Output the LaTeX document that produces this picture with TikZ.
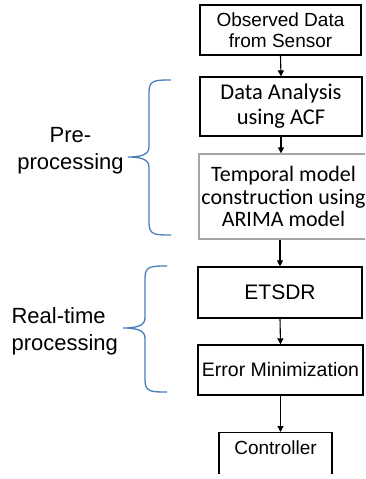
\documentclass[tikz,border=0pt]{standalone}
\usepackage{fontspec}
\setmainfont{Liberation Sans}
\newfontfamily\calibrifont{Carlito}
\usetikzlibrary{arrows.meta}
\definecolor{braceblue}{RGB}{74,126,187}

\begin{document}
\begin{tikzpicture}[x=1pt, y=-1pt,
    box/.style={draw, line width=1.2pt, inner sep=0pt, align=center},
    arr/.style={line width=1.1pt, -{Triangle[length=6pt, width=6pt]}},
    brace/.style={braceblue, line width=1.3pt},
    side/.style={font=\fontsize{22}{27}\selectfont}]
    \useasboundingbox (0, 0) rectangle (365, 479);
    \clip (0, 0) rectangle (365, 473);

    \node[box, minimum width=161, minimum height=50, font=\fontsize{19}{21}\selectfont] (obs) at (280.5, 30) {Observed Data\\from Sensor};
    \node[box, minimum width=162, minimum height=59, font=\calibrifont\fontsize{22.5}{25}\selectfont] (ana) at (281, 106.5) {Data Analysis\\using ACF};
    \node[box, draw=black!35, minimum width=169, minimum height=85, font=\calibrifont\fontsize{22}{22.5}\selectfont] (tmp) at (283.5, 196.5) {Temporal model\\construction using\\ARIMA model};
    \node[box, minimum width=164, minimum height=51, font=\fontsize{21}{24}\selectfont] (etsdr) at (280, 292.5) {ETSDR};
    \node[box, minimum width=165, minimum height=50, font=\fontsize{19.5}{23}\selectfont] (err) at (280.5, 370) {Error Minimization};
    \node[box, minimum width=113, text height=22, text depth=60, anchor=north, font=\fontsize{19}{22}\selectfont] (ctl) at (275.5, 432) {Controller};

    \draw[arr] (obs.south) -- (ana.north);
    \draw[arr] (ana.south) -- (ana.south |- tmp.north);
    \draw[arr] (etsdr.north |- tmp.south) -- (etsdr.north);
    \draw[arr] (etsdr.south) -- (err.north);
    \draw[arr] (err.south) -- (err.south |- ctl.north);

    \draw[brace] (171, 80) .. controls (155, 80) and (149, 80) .. (149, 92) -- (149, 147)
        .. controls (149, 155) and (140, 157) .. (128, 157)
        .. controls (140, 157) and (149, 159) .. (149, 167) -- (149, 223)
        .. controls (149, 235) and (155, 235) .. (171, 235);
    \draw[brace] (167, 266) .. controls (151, 266) and (145, 266) .. (145, 278) -- (145, 318)
        .. controls (145, 326) and (136, 328) .. (123, 328)
        .. controls (136, 328) and (145, 330) .. (145, 338) -- (145, 380)
        .. controls (145, 392) and (151, 392) .. (167, 392);

    \node[side, align=center] (pre) at (70.5, 151) {Pre-\\processing};
    \node[side, align=left, anchor=west] (rt) at (8, 331) {Real-time\\processing};
\end{tikzpicture}
\end{document}
